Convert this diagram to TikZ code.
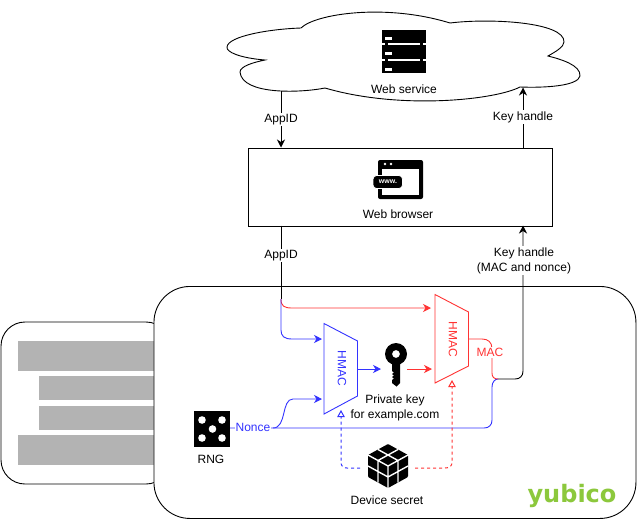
\documentclass[tikz,border=0pt]{standalone}
\usepackage{fontspec}
\setmainfont{Liberation Sans}
\newfontfamily\logofont{DejaVu Sans}
\usetikzlibrary{arrows.meta}
\definecolor{hblue}{HTML}{3333FF}
\definecolor{hred}{HTML}{FF3333}
\definecolor{hgray}{HTML}{B3B3B3}
\definecolor{ygreen}{HTML}{8CC83C}
\tikzset{
  lab/.style={font=\fontsize{12}{15}\selectfont,inner sep=1pt,align=center},
  whitelab/.style={lab,fill=white},
  flow/.style={line width=0.9pt,-{Stealth[length=8pt,width=8pt,inset=2.5pt]}},
  plain/.style={line width=0.9pt},
  bluef/.style={flow,draw=hblue},
  redf/.style={flow,draw=hred},
  blueline/.style={plain,draw=hblue},
  redline/.style={plain,draw=hred},
  secret/.style={line width=1pt,dash pattern=on 3pt off 3pt,-{Triangle[open,length=7pt,width=7.5pt]}},
  graybar/.style={fill=hgray,draw=none},
  hmacbox/.style={line width=0.9pt,line join=miter},
}
\begin{document}
\begin{tikzpicture}[x=1pt,y=-1pt]
\useasboundingbox (0,0) rectangle (637,523);
% ---------- left part (key body)
\draw[plain,fill=white,rounded corners=24pt] (1,322) -- (170,322) -- (170,484) -- (1,484) -- cycle;
\fill[graybar] (18,341) rectangle (160,371);
\fill[graybar] (39,376) rectangle (160,400);
\fill[graybar] (39,406) rectangle (160,430);
\fill[graybar] (18,435) rectangle (160,465);
% ---------- device outline
\node[draw,line width=0.9pt,fill=white,rounded corners=36pt,minimum width=482pt,minimum height=232pt,inner sep=0pt,anchor=north west] (device) at (153.5,286) {};
% ---------- cloud
\draw[plain,fill=white] (301,28)
  .. controls (315,14) and (385,3) .. (450,23)
  .. controls (490,18) and (565,22) .. (564,42)
  .. controls (564,47) and (555,52) .. (548,56)
  .. controls (560,59) and (581,65) .. (580,76)
  .. controls (578,86) and (545,88) .. (520,87)
  .. controls (495,100) and (400,110) .. (325,88)
  .. controls (300,93) and (242,95) .. (240,72)
  .. controls (240,66) and (255,62) .. (265,60)
  .. controls (240,58) and (226,52) .. (227,47)
  .. controls (228,36) and (270,29) .. (301,28) -- cycle;
\coordinate (cloudL) at (281,91);
\coordinate (cloudR) at (523,87.5);
% server icon
\fill[black] (382,30) rectangle (426,73);
\foreach \yy in {44,60}{
  \fill[white] (388,\yy-1) rectangle (420,\yy+1);
  \fill[white] (382,\yy-1) rectangle (385,\yy+1);
  \fill[white] (423,\yy-1) rectangle (426,\yy+1);
}
\foreach \yy in {38,53.5,69}{
  \fill[white] (385,\yy-1.5) rectangle (391.5,\yy+1.5);
}
\node[lab] (service) at (404,89.5) {Web service};
% ---------- browser
\node[draw,line width=0.9pt,fill=white,minimum width=304pt,minimum height=78pt,inner sep=0pt,anchor=north west] (browser) at (247.5,147.5) {};
\fill[black,rounded corners=2pt] (378,160) rectangle (423,199);
\fill[white] (382,168.5) rectangle (419,195);
\fill[white] (385,164) circle (1.3);
\fill[white] (391,164) circle (1.3);
\fill[black,rounded corners=3.5pt,draw=white,line width=0.8pt] (373,175.5) rectangle (402.5,188.5);
\node[white,font=\bfseries\fontsize{7}{7}\selectfont,inner sep=0pt] (www) at (388,181.5) {www.};
\node[lab] (browserlab) at (398,214) {Web browser};
% ---------- top connectors
\draw[flow] (cloudL) -- (281,147.5) coordinate (browserTopL);
\draw[flow] (523,147.5) coordinate (browserTopR) -- (cloudR);
\node[whitelab] (appidA) at (281,119.5) {AppID};
\node[whitelab] (khA) at (523,117) {Key handle};
% ---------- coloured branches from AppID
\coordinate (split) at (281,299);
\draw[plain] (281,225.5) -- (split);
\draw[redf] (split) .. controls (281,306) and (284,308) .. (292,308) -- (431,308);
\draw[bluef] (split) -- (281,330) .. controls (281,336) and (284,339) .. (292,339) -- (322,339);
\node[whitelab] (appidB) at (281,255.5) {AppID};
% ---------- HMAC blue
\draw[hmacbox,draw=hblue] (324,323.5) -- (357.5,341) -- (357.5,396) -- (324,414) -- cycle;
\node[lab,text=hblue,rotate=-90] (hmacB) at (342,368.5) {HMAC};
% ---------- HMAC red
\draw[hmacbox,draw=hred] (435,294.5) -- (468.5,312) -- (468.5,366) -- (435,383) -- cycle;
\node[lab,text=hred,rotate=-90] (hmacR) at (453,339) {HMAC};
% ---------- key
\fill[black,even odd rule] (396,354) circle (11) (396,354) circle (4);
\fill[black] (392,362) -- (400,362) -- (400,383) -- (396.5,386.5) -- (392,383) -- (392,380) -- (394,378.5) -- (392,377) -- (394,375.5) -- (392,374) -- (394,372.5) -- (392,371) -- cycle;
\node[lab] (keylab) at (395,407.5) {Private key\\for example.com};
\draw[bluef] (357.5,369) -- (381,369);
\draw[redf] (407,369) -- (432,369);
% ---------- RNG
\fill[black] (194,411) rectangle (230,447);
\foreach \xx/\yy in {202/420,222/420,212.5/429,202/438,222/438}{\fill[white] (\xx,\yy) circle (3.8);}
\node[lab] (rng) at (211,459) {RNG};
% ---------- Nonce lines
\coordinate (merge) at (498,379);
\draw[blueline] (230,428) -- (484,428) .. controls (489,428) and (492,425) .. (492,420) -- (492,387) .. controls (492,382) and (495,379) .. (merge);
\draw[bluef] (273,428) .. controls (287,428) and (281,399) .. (293,399) -- (322,399);
\node[lab,text=hblue,fill=white] (nonce) at (253,427.5) {Nonce};
% ---------- MAC line
\draw[redline] (468.5,339) -- (482,339) .. controls (488,339) and (492,342) .. (492,349) -- (492,373) .. controls (492,377) and (494,379) .. (merge);
\node[lab,text=hred,fill=white] (mac) at (490,352.5) {MAC};
% ---------- key handle to browser
\draw[flow] (merge) -- (515,379) .. controls (520,379) and (523,376) .. (523,371) -- (523,225.5);
\node[whitelab] (khB) at (524,260.5) {Key handle\\(MAC and nonce)};
% ---------- device secret cube
\fill[black,rounded corners=1pt] (388,444) -- (408,455) -- (408,477) -- (388,488) -- (368,477) -- (368,455) -- cycle;
\draw[white,line width=1.4pt] (368,455) -- (388,466) -- (408,455) (388,466) -- (388,488)
  (378,449.5) -- (398,460.5) (398,449.5) -- (378,460.5)
  (378,460.5) -- (378,482.5) (368,466) -- (388,477)
  (398,460.5) -- (398,482.5) (408,466) -- (388,477);
\node[lab] (secretlab) at (387,500.5) {Device secret};
\coordinate (cubeL) at (360,468);
\coordinate (cubeR) at (415,468);
\draw[secret,draw=hblue] (cubeL) -- (347,468) .. controls (343,468) and (341,466) .. (341,462) -- (341,410);
\draw[secret,draw=hred] (cubeR) -- (445,468) .. controls (450,468) and (452,466) .. (452,462) -- (452,380);
% ---------- logo
\node[font=\logofont\bfseries\fontsize{24}{24}\selectfont,text=ygreen,inner sep=0pt,anchor=base] (logo) at (572,502) {yubico};
\end{tikzpicture}
\end{document}
